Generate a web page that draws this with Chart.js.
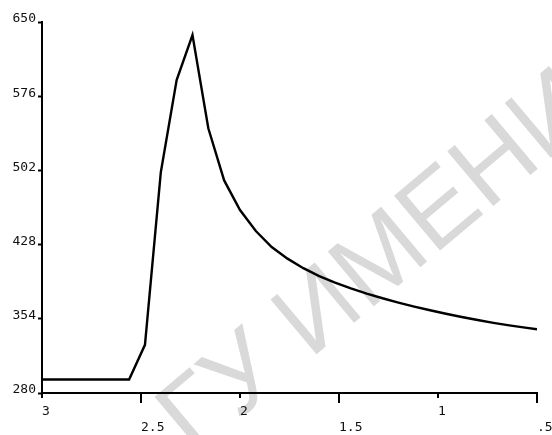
<!DOCTYPE html>
<html>
<head>
<meta charset="utf-8">
<script src="https://cdn.jsdelivr.net/npm/chart.js@4.4.0/dist/chart.umd.min.js"></script>
<style>
  html, body { margin: 0; padding: 0; background: #fff; }
  #wrap { width: 552px; height: 435px; }
</style>
</head>
<body>
<div id="wrap"><canvas id="chart"></canvas></div>
<script>
// values
const xValues = [3.00, 2.56, 2.48, 2.40, 2.32, 2.24, 2.16, 2.08, 2.00, 1.92, 1.84, 1.76, 1.68,
                 1.60, 1.52, 1.44, 1.36, 1.28, 1.20, 1.12, 1.04, 0.96, 0.88, 0.80, 0.72,
                 0.64, 0.56, 0.50];
const yValues = [293.5, 293.5, 328, 500, 592, 637, 544, 492, 462.5, 441.5, 425.6, 414, 404.5,
                 396.5, 390, 384.3, 379.2, 374.5, 370.2, 366.2, 362.5, 359, 355.8, 352.8, 350,
                 347.5, 345.2, 343.5];
const xTicks = [3, 2.5, 2, 1.5, 1, 0.5];
const yTicks = [280, 354, 428, 502, 576, 650];
const watermark = 'ГУ ИМЕНИ';

const labelFont = { family: '"DejaVu Sans Mono", monospace', size: 13 };

// grey watermark behind everything
const watermarkPlugin = {
  id: 'watermark',
  beforeDraw(chart) {
    const ctx = chart.ctx;
    ctx.save();
    ctx.translate(194, 457);
    ctx.rotate(-40 * Math.PI / 180);
    ctx.font = '104px "Liberation Sans", Arial, sans-serif';
    ctx.fillStyle = '#d9d9d9';
    ctx.fillText(watermark, 0, 0);
    ctx.restore();
  }
};

// alternating short / long x tick marks
const xTickMarks = {
  id: 'xTickMarks',
  afterDraw(chart) {
    const xs = chart.scales.x;
    const ctx = chart.ctx;
    const y0 = chart.chartArea.bottom;
    ctx.save();
    ctx.strokeStyle = '#000';
    ctx.lineWidth = 2;
    xs.ticks.forEach(t => {
      const px = Math.round(xs.getPixelForValue(t.value));
      const len = Math.round(t.value * 2) % 2 ? 10 : 5;
      ctx.beginPath();
      ctx.moveTo(px, y0);
      ctx.lineTo(px, y0 + len);
      ctx.stroke();
    });
    ctx.restore();
  }
};

const fmt = v => String(v).replace(/^0\./, '.');

new Chart(document.getElementById('chart'), {
  type: 'line',
  data: {
    datasets: [{
      data: xValues.map((x, i) => ({ x: x, y: yValues[i] })),
      borderColor: '#000',
      borderWidth: 2.4,
      pointRadius: 0,
      tension: 0,
      fill: false
    }]
  },
  options: {
    responsive: true,
    maintainAspectRatio: false,
    animation: false,
    layout: { padding: { top: 22, right: 15, left: 0, bottom: 0 } },
    plugins: { legend: { display: false }, tooltip: { enabled: false } },
    scales: {
      x: {
        type: 'linear',
        reverse: true,
        min: 0.5,
        max: 3,
        afterBuildTicks: s => { s.ticks = xTicks.map(v => ({ value: v })); },
        afterFit: s => { s.height = 42; s.paddingLeft = 0; s.paddingRight = 0; },
        grid: { display: false, drawTicks: false },
        border: { display: true, color: '#000', width: 2 },
        ticks: {
          autoSkip: false,
          maxRotation: 0,
          align: 'start',
          padding: 11,
          color: '#111',
          font: { ...labelFont, lineHeight: '16px' },
          callback: v => (Math.round(v * 2) % 2 ? ['', fmt(v)] : fmt(v))
        }
      },
      y: {
        min: 280,
        max: 650,
        afterBuildTicks: s => { s.ticks = yTicks.map(v => ({ value: v })); },
        afterFit: s => { s.width = 42; s.paddingTop = 0; s.paddingBottom = 0; },
        grid: { display: true, drawOnChartArea: false, drawTicks: true, tickLength: 4, tickWidth: 2, tickColor: '#000' },
        border: { display: true, color: '#000', width: 2 },
        ticks: {
          padding: 2,
          labelOffset: -3,
          color: '#111',
          font: labelFont,
          callback: v => String(v)
        }
      }
    }
  },
  plugins: [watermarkPlugin, xTickMarks]
});
</script>
</body>
</html>
